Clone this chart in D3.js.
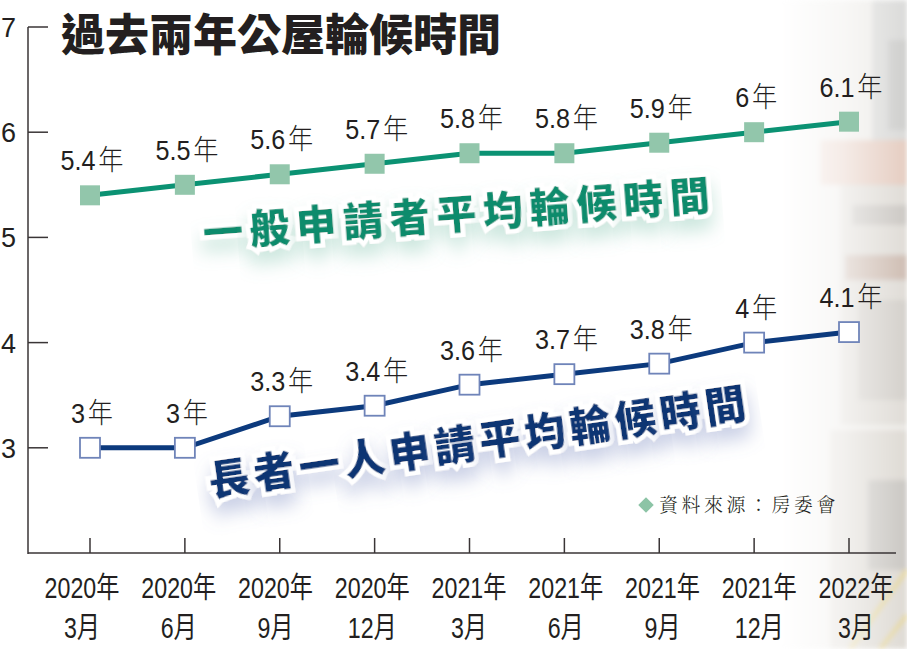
<!DOCTYPE html>
<html>
<head>
<meta charset="utf-8">
<script src="https://d3js.org/d3.v7.min.js"></script>
<title>過去兩年公屋輪候時間</title>
<style>
body { margin: 0; background: #fff; }
#root { width: 907px; height: 649px; display: block; }
.num { font-family: "Liberation Sans", "Noto Sans CJK TC", sans-serif; fill: #231f20; }
.cjk { font-family: "Noto Sans CJK TC", sans-serif; }
</style>
</head>
<body>
<svg id="root"></svg>

<script>
let years = ['2020年', '2020年', '2020年', '2020年', '2021年', '2021年', '2021年', '2021年', '2022年']
let months = ['3月', '6月', '9月', '12月', '3月', '6月', '9月', '12月', '3月']
let general = [5.4, 5.5, 5.6, 5.7, 5.8, 5.8, 5.9, 6, 6.1]
let elderly = [3, 3, 3.3, 3.4, 3.6, 3.7, 3.8, 4, 4.1]
let yTicks = [3, 4, 5, 6, 7]

let title = '過去兩年公屋輪候時間'
let generalName = '一般申請者平均輪候時間'
let elderlyName = '長者一人申請平均輪候時間'
let source = '資料來源：房委會'

let svg = d3.select('#root')
let defs = svg.append('defs')

let x = d3.scalePoint().domain(d3.range(years.length)).range([90, 849])
// the date labels are spread a little wider than the ticks
let xLabel = d3.scalePoint().domain(d3.range(years.length)).range([82, 856])
let y = d3.scaleLinear().domain([2, 7]).range([553, 27])

// faded photo on the right edge
let fade = defs.append('linearGradient').attr('id', 'fade')
fade.append('stop').attr('offset', '0').attr('stop-color', '#fff').attr('stop-opacity', 0)
fade.append('stop').attr('offset', '0.5').attr('stop-color', '#fff').attr('stop-opacity', 0.35)
fade.append('stop').attr('offset', '1').attr('stop-color', '#fff').attr('stop-opacity', 0.9)
defs.append('mask').attr('id', 'photoMask')
	.append('rect').attr('x', 780).attr('y', 0).attr('width', 127).attr('height', 649).attr('fill', 'url(#fade)')
defs.append('filter').attr('id', 'soft').append('feGaussianBlur').attr('stdDeviation', 2.5)

let photo = svg.append('g').attr('mask', 'url(#photoMask)').append('g').attr('filter', 'url(#soft)')
let blocks = [
	[770, 0, 137, 649, '#ebe9e5'],
	[872, 0, 35, 150, '#d6d6d4'],
	[888, 40, 19, 90, '#c9c9c7'],
	[820, 140, 87, 45, '#e2c7ba'],
	[840, 185, 67, 240, '#dcd8d2'],
	[852, 205, 55, 20, '#c6c2bd'],
	[845, 255, 62, 25, '#c9b6aa'],
	[858, 300, 49, 100, '#cfcbc5'],
	[830, 430, 77, 219, '#dad6cf'],
	[868, 480, 39, 90, '#c4c1bc']
]
photo.selectAll('rect').data(blocks).enter().append('rect')
	.attr('x', d => d[0]).attr('y', d => d[1]).attr('width', d => d[2]).attr('height', d => d[3])
	.attr('fill', d => d[4])
photo.append('path').attr('d', 'M850,649 L907,570 M880,649 L907,615').attr('stroke', '#e4d28a').attr('stroke-width', 4)

// axes
svg.append('line').attr('x1', 28).attr('x2', 28).attr('y1', y(7)).attr('y2', y(2) + 1)
	.attr('stroke', '#3a3536').attr('stroke-width', 1.5)
svg.append('line').attr('x1', 28).attr('x2', 896).attr('y1', y(2)).attr('y2', y(2))
	.attr('stroke', '#3a3536').attr('stroke-width', 1.5)

let yt = svg.selectAll('.ytick').data(yTicks).enter().append('g').attr('class', 'ytick')
	.attr('transform', d => 'translate(0,' + y(d) + ')')
yt.append('line').attr('x1', 28).attr('x2', 48).attr('stroke', '#3a3536').attr('stroke-width', 1.5)
yt.append('text').attr('class', 'num').attr('x', 16).attr('y', 10).attr('text-anchor', 'end')
	.attr('font-size', 27).text(d => d)

let xt = svg.selectAll('.xtick').data(years).enter().append('g').attr('class', 'xtick')
xt.append('line').attr('x1', (d, i) => x(i)).attr('x2', (d, i) => x(i))
	.attr('y1', y(2)).attr('y2', y(2) - 15).attr('stroke', '#3a3536').attr('stroke-width', 1.5)
xt.append('text').attr('class', 'num').attr('transform', (d, i) => 'translate(' + xLabel(i) + ',598) scale(0.8,1)')
	.attr('text-anchor', 'middle').attr('font-size', 29).text(d => d)
xt.append('text').attr('class', 'num').attr('transform', (d, i) => 'translate(' + xLabel(i) + ',638) scale(0.8,1)')
	.attr('text-anchor', 'middle').attr('font-size', 29).text((d, i) => months[i])

// title
svg.append('text').attr('class', 'cjk').attr('x', 61).attr('y', 51)
	.attr('font-size', 44).attr('font-weight', 900).attr('fill', '#231f20').text(title)

// series name labels with white outline and soft shadow
function shadow(id, color)
{
	let f = defs.append('filter').attr('id', id).attr('x', '-30%').attr('y', '-60%').attr('width', '160%').attr('height', '280%')
	f.append('feDropShadow').attr('dx', 0).attr('dy', 12).attr('stdDeviation', 9)
		.attr('flood-color', color).attr('flood-opacity', 0.35)
}
shadow('glowGreen', '#6dbba2')
shadow('glowBlue', '#6a7db8')

function seriesName(text, cx, cy, angle, size, spacing, color, filter)
{
	let g = svg.append('g').attr('transform', 'translate(' + cx + ',' + cy + ') rotate(' + angle + ')')
	g.selectAll('text').data(text.split('')).enter().append('text')
		.attr('class', 'cjk')
		.attr('x', (d, i) => i * spacing)
		.attr('y', size * 0.36)
		.attr('text-anchor', 'middle')
		.attr('font-size', size).attr('font-weight', 900)
		.attr('fill', color)
		.attr('stroke', '#fff').attr('stroke-width', 9).attr('stroke-linejoin', 'miter')
		.attr('paint-order', 'stroke')
		.attr('filter', 'url(#' + filter + ')')
		.text(d => d)
}

// lines
function series(values, color)
{
	let line = d3.line().x((d, i) => x(i)).y(d => y(d))
	svg.append('path').datum(values).attr('d', line)
		.attr('fill', 'none').attr('stroke', color).attr('stroke-width', 5)
}

series(general, '#0b9273')
series(elderly, '#0c3a7d')

seriesName(generalName, 223, 232, -4.3, 40, 46.8, '#0a8b6c', 'glowGreen')
seriesName(elderlyName, 229, 478, -8.3, 41, 45.6, '#0c3573', 'glowBlue')

svg.selectAll('.gm').data(general).enter().append('rect').attr('class', 'gm')
	.attr('x', (d, i) => x(i) - 10).attr('y', d => y(d) - 10)
	.attr('width', 20).attr('height', 20).attr('fill', '#92c6ab')

svg.selectAll('.em').data(elderly).enter().append('rect').attr('class', 'em')
	.attr('x', (d, i) => x(i) - 10).attr('y', d => y(d) - 10)
	.attr('width', 20).attr('height', 20).attr('fill', '#fff')
	.attr('stroke', '#6f84b9').attr('stroke-width', 1.8)

// value labels
function valueLabels(values)
{
	let t = svg.append('g').selectAll('text').data(values).enter().append('text')
		.attr('class', 'num').attr('text-anchor', 'middle')
		.attr('transform', (d, i) => 'translate(' + (x(i) + 2) + ',' + (y(d) - 25) + ') scale(0.9,1)')
		.attr('font-size', 28)
	t.append('tspan').text(d => d)
	t.append('tspan').attr('class', 'cjk').attr('dx', 3).attr('font-weight', 300).text('年')
}
valueLabels(general)
valueLabels(elderly)

// source
svg.append('rect').attr('x', -5.5).attr('y', -5.5).attr('width', 11).attr('height', 11)
	.attr('transform', 'translate(646,505) rotate(45)').attr('fill', '#8cc4a6')
svg.append('text').attr('x', 659).attr('y', 512)
	.style('font-family', '"Noto Serif CJK TC", "Noto Sans CJK TC", serif')
	.attr('font-size', 19).attr('font-weight', 300).attr('letter-spacing', 3.5)
	.attr('fill', '#231f20').text(source)
</script>
</body>
</html>
